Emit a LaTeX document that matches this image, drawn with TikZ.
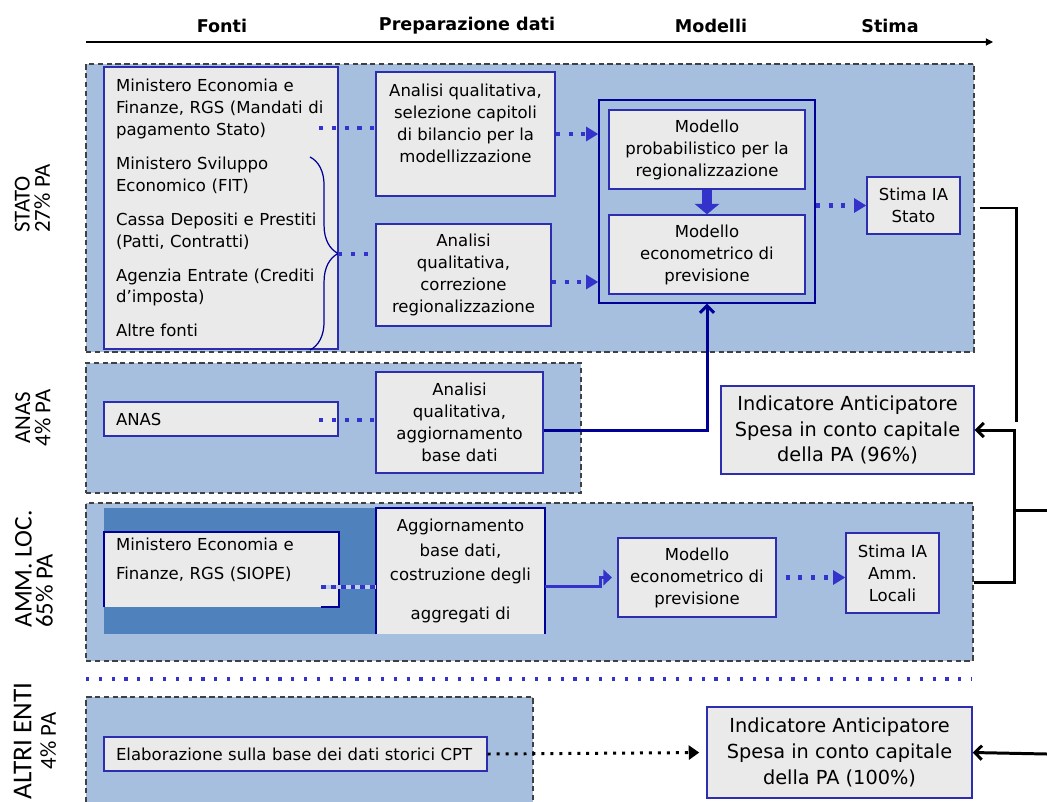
\documentclass[tikz,border=0pt]{standalone}
\usepackage{fontspec}
\setmainfont{DejaVu Sans}
\newfontfamily\sidefont{Carlito}
\usetikzlibrary{arrows.meta,decorations.pathreplacing}

\definecolor{regfill}{RGB}{167,191,222}
\definecolor{boxgray}{RGB}{234,234,234}
\definecolor{boxblue}{RGB}{45,45,175}
\definecolor{navy}{RGB}{0,0,150}
\definecolor{dotblue}{RGB}{51,51,204}
\definecolor{darkbg}{RGB}{79,129,189}
\definecolor{dashgray}{RGB}{64,64,64}

\newcommand{\px}{0.02cm}
\newcommand{\boxfont}{\fontsize{9.4}{12.5}\selectfont}

\begin{document}
\begin{tikzpicture}[x=\px, y=-\px,
    region/.style={draw=dashgray, fill=regfill, dash pattern=on 3pt off 2pt, line width=0.6pt, inner sep=0pt},
    box/.style={draw=boxblue, fill=boxgray, line width=0.8pt, inner sep=0pt, align=center, font=\boxfont},
    bigbox/.style={box, font=\fontsize{11}{14.7}\selectfont},
    leftbox/.style={box, align=left, inner xsep=0.24cm},
    dotline/.style={dotblue, line width=2.3pt, dash pattern=on 2.3pt off 5pt},
    dotarr/.style={dotline, -{Triangle[length=7pt,width=8pt]}},
    feed/.style={black, line width=1.7pt},
    barb/.style={-{Straight Barb[length=4pt,width=8pt]}},
    sidelab/.style={rotate=90, inner sep=0pt, font=\sidefont\fontsize{13}{11.5}\selectfont},
    head/.style={font=\bfseries\fontsize{10}{12}\selectfont}]
    \useasboundingbox (0,0) rectangle (1047,801);

    % 1. intestazione con le fasi
    \node[head] (hfonti) at (222,26) {Fonti};
    \node[head] (hprep) at (467,26) {Preparazione dati};
    \node[head] (hmod) at (711,26) {Modelli};
    \node[head] (hstima) at (890,26) {Stima};
    \coordinate (t0) at (86,42);
    \coordinate (t1) at (993,42);
    \draw[line width=0.6pt, -{Triangle[length=4pt,width=4pt]}] (t0) -- (t1);

    % 2. fasce tratteggiate
    \node[region, minimum width=888*\px, minimum height=288*\px] (rstato) at (530,208) {};
    \node[region, minimum width=495*\px, minimum height=130*\px] (ranas) at (333.5,428) {};
    \node[region, minimum width=887*\px, minimum height=158*\px] (ramm) at (529.5,582) {};
    \node[region, minimum width=447*\px, minimum height=113*\px] (raltri) at (309.5,753.5) {};

    % etichette laterali
    \node[sidelab, align=left, anchor=west] (lstato) at (32.5,233) {STATO\\27\% PA};
    \node[sidelab, align=center] (lanas) at (33,418) {ANAS\\4\% PA};
    \node[sidelab, align=left, anchor=west, font=\sidefont\fontsize{14}{12}\selectfont] (lamm) at (34,628)
        {{\fontsize{14.5}{12}\selectfont AMM. LOC.}\\65\% PA};
    \node[sidelab, align=center, font=\sidefont\fontsize{13}{14}\selectfont] (laltri) at (35,741)
        {{\fontsize{15.5}{14}\selectfont ALTRI ENTI}\\4\% PA};

    % 3. STATO
    \node[leftbox, text width=4.2cm, minimum height=282*\px] (src) at (221,208)
        {Ministero Economia e\\Finanze, RGS (Mandati di\\pagamento Stato)\\[6.8pt]
         Ministero Sviluppo\\Economico (FIT)\\[6.8pt]
         Cassa Depositi e Prestiti\\(Patti, Contratti)\\[6.8pt]
         Agenzia Entrate (Crediti\\d’imposta)\\[6.8pt]
         Altre fonti};
    \draw[navy, line width=0.7pt, decorate, decoration={brace, amplitude=16pt}] (310,157) -- (310,350);
    \coordinate (bt) at (338,254);
    \coordinate (s1) at (319,128);

    \node[box, minimum width=179*\px, minimum height=124*\px] (aq1) at (465.5,134)
        {Analisi qualitativa,\\selezione capitoli\\di bilancio per la\\modellizzazione\\ ~};
    \node[box, minimum width=175*\px, minimum height=102*\px] (aq2) at (463.5,275)
        {Analisi\\qualitativa,\\correzione\\regionalizzazione};

    \node[draw=navy, line width=0.8pt, minimum width=216*\px, minimum height=203*\px] (mod) at (707,201.5) {};
    \node[box, minimum width=196*\px, minimum height=79*\px] (prob) at (707,149.5)
        {Modello\\probabilistico per la\\regionalizzazione};
    \node[box, minimum width=196*\px, minimum height=79*\px] (econ) at (707,254.5)
        {Modello\\econometrico di\\previsione};
    \node[box, minimum width=93*\px, minimum height=57*\px] (ststato) at (913.5,205.5) {Stima IA\\Stato};

    \draw[dotline] (s1) -- (s1 -| aq1.west);
    \draw[dotline] (bt) -- (bt -| aq2.west);
    \draw[dotarr] (aq1.east) -- (aq1.east -| mod.west);
    \draw[dotarr] ([yshift=-7*\px]aq2.east) -- ([yshift=-7*\px]aq2.east -| mod.west);
    \draw[dotblue, line width=5.7pt, -{Triangle[length=6pt,width=14pt]}] (prob.south) -- (econ.north);
    \draw[dotarr] (mod.east |- ststato.west) -- (ststato.west);

    % 4. ANAS
    \node[leftbox, text width=4.2cm, minimum height=34*\px] (anas) at (221,419) {ANAS};
    \node[box, minimum width=167*\px, minimum height=101*\px] (aq3) at (459.5,422.5)
        {Analisi\\qualitativa,\\aggiornamento\\base dati};
    \coordinate (s3) at (319,420);
    \draw[dotline] (s3) -- (s3 -| aq3.west);
    \draw[navy, line width=1.7pt, barb] ([yshift=-7.5*\px]aq3.east) -| (mod.south);

    \node[bigbox, minimum width=253*\px, minimum height=88*\px] (ind1) at (847.5,430)
        {Indicatore Anticipatore\\Spesa in conto capitale\\della PA (96\%)};

    % 5. AMM. LOC.
    \fill[darkbg] (104,508) rectangle (376,634);
    \node[fill=boxgray, inner sep=0pt, align=left, text width=4.22cm, inner xsep=0.24cm,
          minimum height=75*\px, font=\boxfont] (mef) at (221.5,569.5)
        {Ministero Economia e\\[4pt]Finanze, RGS (SIOPE)\\ ~};
    \draw[navy, line width=1.2pt] (mef.south west) -- (mef.north west) -- (mef.north east)
        -- (mef.south east) -- ++(-18,0);
    \node[fill=boxgray, inner sep=0pt, align=center, minimum width=169*\px, minimum height=126*\px,
          font=\fontsize{9.4}{14}\selectfont] (agg) at (460.5,571)
        {Aggiornamento\\base dati,\\costruzione degli\\[8pt]aggregati di};
    \draw[navy, line width=1.2pt] (agg.south west) -- (agg.north west) -- (agg.north east) -- (agg.south east);
    \coordinate (s4) at (321,587);
    \draw[regfill!70!white, line width=2.6pt] (s4) -- (s4 -| agg.west);
    \draw[dotblue, line width=2.6pt, dash pattern=on 2.8pt off 2.8pt] (s4) -- (s4 -| agg.west);

    \node[box, minimum width=158*\px, minimum height=79*\px] (econ2) at (697,577.5)
        {Modello\\econometrico di\\previsione};
    \node[box, minimum width=93*\px, minimum height=80*\px] (stam) at (892.5,573)
        {Stima IA\\Amm.\\Locali};
    \coordinate (k1) at (600,586);
    \draw[dotblue, line width=1.7pt, -{Triangle[length=5pt,width=9pt]}, shorten >=3pt]
        ([yshift=-15*\px]agg.east) -- (k1) |- (econ2.west);
    \draw[dotarr, shorten <=5pt] (econ2.east) -- (econ2.east -| stam.west);

    % 6. collegamenti verso gli indicatori
    \coordinate (j1) at (1016,422);
    \coordinate (j2) at (1014,430);
    \coordinate (j3) at (1014,510);
    \coordinate (o1) at (1047,510);
    \coordinate (o2) at (1047,754);
    \draw[feed] ([xshift=19*\px, yshift=-2.5*\px]ststato.east) -| (j1);
    \draw[feed, barb] (ramm.east) -| (j2) -- (ind1.east);
    \draw[feed] (j3) -- (o1);

    % separatore
    \coordinate (d0) at (86,679);
    \coordinate (d1) at (972,679);
    \draw[dotblue, line width=1.8pt, dash pattern=on 1.8pt off 5.5pt] (d0) -- (d1);

    % 7. ALTRI ENTI
    \node[leftbox, text width=7.18cm, minimum height=34*\px] (elab) at (295.5,754)
        {Elaborazione sulla base dei dati storici CPT};
    \node[bigbox, minimum width=265*\px, minimum height=91*\px] (ind2) at (839.5,752.5)
        {Indicatore Anticipatore\\Spesa in conto capitale\\della PA (100\%)};
    \draw[black, line width=1.7pt, dash pattern=on 1.7pt off 3.4pt,
          -{Triangle[length=6pt,width=8pt]}, shorten >=4pt] (elab.east) -- (ind2.west);
    \draw[feed, barb] (o2) -- (ind2.east);
\end{tikzpicture}
\end{document}
